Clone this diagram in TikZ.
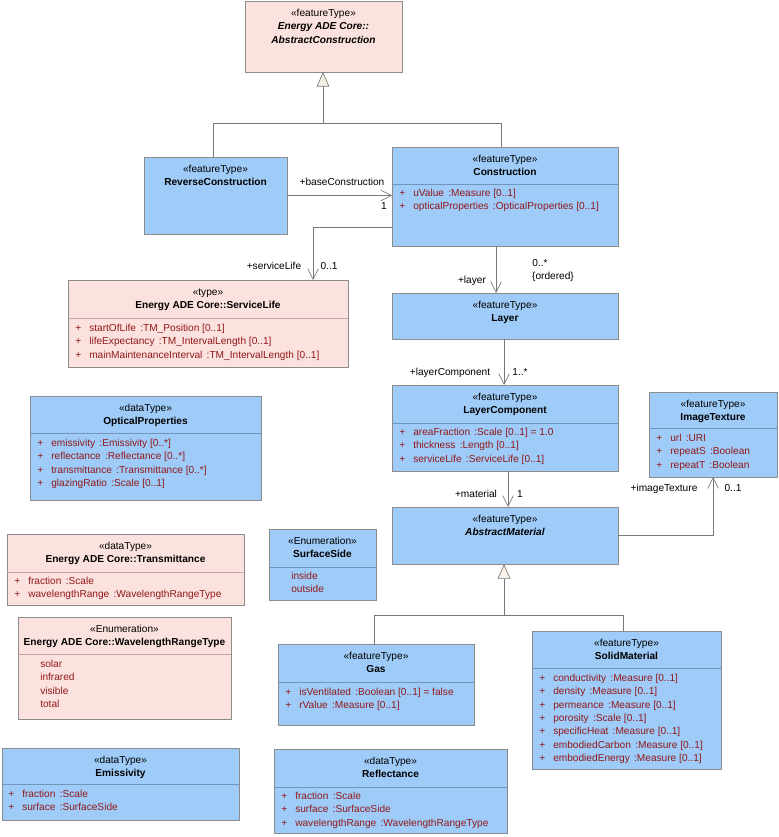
\documentclass[tikz,border=0pt]{standalone}
\usepackage{fontspec}
\setmainfont{Liberation Sans}
\usetikzlibrary{arrows.meta,calc}
\definecolor{ublue}{RGB}{158,203,247}
\definecolor{upink}{RGB}{251,226,222}
\definecolor{ublueline}{RGB}{112,150,190}
\definecolor{upinkline}{RGB}{195,165,165}
\definecolor{uborder}{RGB}{140,140,140}
\definecolor{attrc}{RGB}{145,25,25}
\definecolor{conn}{RGB}{120,120,120}
\definecolor{cream}{RGB}{248,242,232}
\newcommand\pl{\makebox[10.5pt][l]{+}}
\newcommand\sep{\hspace{3.2pt}}
% name, style, x1, y1, x2, y2
\newcommand\ubox[6]{\node[#2, minimum width={(#5-#3)*0.75pt}, minimum height={(#6-#4)*0.75pt}] (#1) at (#3,#4) {};}
\tikzset{
  basebox/.style={draw=uborder, line width=0.5pt, inner sep=0pt, outer sep=0pt, anchor=north west},
  bluebox/.style={basebox, fill=ublue},
  pinkbox/.style={basebox, fill=upink},
  hdr/.style={align=center, inner sep=0pt, anchor=north, text=black},
  attrs/.style={align=left, inner sep=0pt, anchor=north west, text=attrc},
  bsep/.style={draw=ublueline, line width=0.5pt},
  psep/.style={draw=upinkline, line width=0.5pt},
  assoc/.style={draw=conn, line width=0.5pt, -{Straight Barb[length=8pt,width=8pt]}},
  genl/.style={draw=conn, line width=0.5pt, -{Triangle[length=11pt,width=9.5pt,fill=cream]}},
  plainl/.style={draw=conn, line width=0.5pt},
  lbl/.style={inner sep=0pt, text height=5.3pt, text depth=1.5pt, text=black},
}
\begin{document}
\begin{tikzpicture}[x=0.75pt,y=-0.75pt, font=\fontsize{7.6}{10}\selectfont]
\useasboundingbox (0,0) rectangle (778,837);

% ---------- AbstractConstruction
\ubox{AC}{pinkbox}{245}{1}{402}{72}
\node[hdr] (AC-h) at ($(AC.north)+(0,6)$) {\strut«featureType»\\\textbf{\textit{Energy ADE Core::}}\\\textbf{\textit{AbstractConstruction}}};

% ---------- ReverseConstruction
\ubox{RC}{bluebox}{144}{157}{287}{234}
\node[hdr] (RC-h) at ($(RC.north)+(0,6)$) {\strut«featureType»\\\textbf{ReverseConstruction}};

% ---------- Construction
\ubox{C}{bluebox}{392}{147}{618}{246}
\node[hdr] (C-h) at ($(C.north)+(0,6)$) {\strut«featureType»\\\textbf{Construction}};
\draw[bsep] ($(C.north west)+(0,37)$) -- ($(C.north east)+(0,37)$);
\node[attrs] (C-a) at ($(C.north west)+(7,40)$) {\strut\pl uValue\sep:Measure [0..1]\\\pl opticalProperties\sep:OpticalProperties [0..1]};

% ---------- ServiceLife
\ubox{SL}{pinkbox}{68}{280}{348}{367}
\node[hdr] (SL-h) at ($(SL.north)+(0,6)$) {\strut«type»\\\textbf{Energy ADE Core::ServiceLife}};
\draw[psep] ($(SL.north west)+(0,38)$) -- ($(SL.north east)+(0,38)$);
\node[attrs] (SL-a) at ($(SL.north west)+(7,42)$) {\strut\pl startOfLife\sep:TM\_Position [0..1]\\\pl lifeExpectancy\sep:TM\_IntervalLength [0..1]\\\pl mainMaintenanceInterval\sep:TM\_IntervalLength [0..1]};

% ---------- Layer
\ubox{L}{bluebox}{392}{293}{618}{339}
\node[hdr] (L-h) at ($(L.north)+(0,6)$) {\strut«featureType»\\\textbf{Layer}};

% ---------- LayerComponent
\ubox{LC}{bluebox}{392}{385}{618}{471}
\node[hdr] (LC-h) at ($(LC.north)+(0,6)$) {\strut«featureType»\\\textbf{LayerComponent}};
\draw[bsep] ($(LC.north west)+(0,38)$) -- ($(LC.north east)+(0,38)$);
\node[attrs] (LC-a) at ($(LC.north west)+(7,41)$) {\strut\pl areaFraction\sep:Scale [0..1] = 1.0\\\pl thickness\sep:Length [0..1]\\\pl serviceLife\sep:ServiceLife [0..1]};

% ---------- ImageTexture
\ubox{IT}{bluebox}{649}{392}{777}{477}
\node[hdr] (IT-h) at ($(IT.north)+(0,6)$) {\strut«featureType»\\\textbf{ImageTexture}};
\draw[bsep] ($(IT.north west)+(0,36)$) -- ($(IT.north east)+(0,36)$);
\node[attrs] (IT-a) at ($(IT.north west)+(7,40)$) {\strut\pl url\sep:URI\\\pl repeatS\sep:Boolean\\\pl repeatT\sep:Boolean};

% ---------- AbstractMaterial
\ubox{AM}{bluebox}{392}{507}{618}{564}
\node[hdr] (AM-h) at ($(AM.north)+(0,6)$) {\strut«featureType»\\\textbf{\textit{AbstractMaterial}}};

% ---------- OpticalProperties
\ubox{OP}{bluebox}{30}{396}{261}{500}
\node[hdr] (OP-h) at ($(OP.north)+(0,6)$) {\strut«dataType»\\\textbf{OpticalProperties}};
\draw[bsep] ($(OP.north west)+(0,37)$) -- ($(OP.north east)+(0,37)$);
\node[attrs] (OP-a) at ($(OP.north west)+(7,41)$) {\strut\pl emissivity\sep:Emissivity [0..*]\\\pl reflectance\sep:Reflectance [0..*]\\\pl transmittance\sep:Transmittance [0..*]\\\pl glazingRatio\sep:Scale [0..1]};

% ---------- Transmittance
\ubox{TR}{pinkbox}{7}{534}{244}{605}
\node[hdr] (TR-h) at ($(TR.north)+(0,6)$) {\strut«dataType»\\\textbf{Energy ADE Core::Transmittance}};
\draw[psep] ($(TR.north west)+(0,38)$) -- ($(TR.north east)+(0,38)$);
\node[attrs] (TR-a) at ($(TR.north west)+(7,41)$) {\strut\pl fraction\sep:Scale\\\pl wavelengthRange\sep:WavelengthRangeType};

% ---------- SurfaceSide
\ubox{SS}{bluebox}{269}{529}{376}{600}
\node[hdr] (SS-h) at ($(SS.north)+(0,6)$) {\strut«Enumeration»\\\textbf{SurfaceSide}};
\draw[bsep] ($(SS.north west)+(0,38)$) -- ($(SS.north east)+(0,38)$);
\node[attrs] (SS-a) at ($(SS.north west)+(22,41)$) {\strut inside\\outside};

% ---------- WavelengthRangeType
\ubox{WR}{pinkbox}{18}{617}{231}{719}
\node[hdr] (WR-h) at ($(WR.north)+(0,6)$) {\strut«Enumeration»\\\textbf{Energy ADE Core::WavelengthRangeType}};
\draw[psep] ($(WR.north west)+(0,37)$) -- ($(WR.north east)+(0,37)$);
\node[attrs] (WR-a) at ($(WR.north west)+(22,41)$) {\strut solar\\infrared\\visible\\total};

% ---------- Gas
\ubox{G}{bluebox}{278}{644}{474}{725}
\node[hdr] (G-h) at ($(G.north)+(0,6)$) {\strut«featureType»\\\textbf{Gas}};
\draw[bsep] ($(G.north west)+(0,38)$) -- ($(G.north east)+(0,38)$);
\node[attrs] (G-a) at ($(G.north west)+(7,42)$) {\strut\pl isVentilated\sep:Boolean [0..1] = false\\\pl rValue\sep:Measure [0..1]};

% ---------- SolidMaterial
\ubox{SM}{bluebox}{532}{631}{721}{769}
\node[hdr] (SM-h) at ($(SM.north)+(0,6)$) {\strut«featureType»\\\textbf{SolidMaterial}};
\draw[bsep] ($(SM.north west)+(0,37)$) -- ($(SM.north east)+(0,37)$);
\node[attrs] (SM-a) at ($(SM.north west)+(7,41)$) {\strut\pl conductivity\sep:Measure [0..1]\\\pl density\sep:Measure [0..1]\\\pl permeance\sep:Measure [0..1]\\\pl porosity\sep:Scale [0..1]\\\pl specificHeat\sep:Measure [0..1]\\\pl embodiedCarbon\sep:Measure [0..1]\\\pl embodiedEnergy\sep:Measure [0..1]};

% ---------- Emissivity
\ubox{EM}{bluebox}{2}{748}{239}{820}
\node[hdr] (EM-h) at ($(EM.north)+(0,6)$) {\strut«dataType»\\\textbf{Emissivity}};
\draw[bsep] ($(EM.north west)+(0,36)$) -- ($(EM.north east)+(0,36)$);
\node[attrs] (EM-a) at ($(EM.north west)+(6,40)$) {\strut\pl fraction\sep:Scale\\\pl surface\sep:SurfaceSide};

% ---------- Reflectance
\ubox{RF}{bluebox}{274}{749}{507}{833}
\node[hdr] (RF-h) at ($(RF.north)+(0,6)$) {\strut«dataType»\\\textbf{Reflectance}};
\draw[bsep] ($(RF.north west)+(0,38)$) -- ($(RF.north east)+(0,38)$);
\node[attrs] (RF-a) at ($(RF.north west)+(7,41)$) {\strut\pl fraction\sep:Scale\\\pl surface\sep:SurfaceSide\\\pl wavelengthRange\sep:WavelengthRangeType};

% ================= connectors
% generalisation to AbstractConstruction
\coordinate (j1) at ($(AC.south)+(-0.5,51)$);
\draw[plainl] ($(RC.north)+(-2.5,0)$) |- (j1);
\draw[plainl] ($(C.north)+(-4,0)$) |- (j1);
\draw[genl] (j1) -- ($(AC.south)+(-0.5,0)$);

% baseConstruction
\draw[assoc] (RC.east) -- (RC.east -| C.west);
\node[lbl] (l-bc) at (342,183) {+baseConstruction};
\node[lbl] (m-bc) at (384,207) {1};

% serviceLife
\draw[assoc] ($(C.south west)+(0,-19)$) -| ($(SL.north east)+(-35,0)$);
\node[lbl] (l-sl) at (274,267) {+serviceLife};
\node[lbl] (m-sl) at (329,267) {0..1};

% layer
\draw[assoc] ($(C.south)+(-9,0)$) -- ($(L.north)+(-9,0)$);
\node[lbl] (l-l) at (472,281) {+layer};
\node[lbl] (m-l) at (540,264) {0..*};
\node[lbl] (m-l2) at (553,277) {\{ordered\}};

% layerComponent
\draw[assoc] ($(L.south)+(-1,0)$) -- ($(LC.north)+(-1,0)$);
\node[lbl] (l-lc) at (450,373) {+layerComponent};
\node[lbl] (m-lc) at (520,373) {1..*};

% material
\draw[assoc] ($(LC.south)+(3,0)$) -- ($(AM.north)+(3,0)$);
\node[lbl] (l-m) at (476,495) {+material};
\node[lbl] (m-m) at (520,495) {1};

% imageTexture
\draw[assoc] (AM.east) -| (IT.south);
\node[lbl] (l-it) at (664,489) {+imageTexture};
\node[lbl] (m-it) at (733,489) {0..1};

% generalisation to AbstractMaterial
\coordinate (j2) at ($(AM.south)+(-1,51)$);
\draw[plainl] ($(G.north)+(-2,0)$) |- (j2);
\draw[plainl] ($(SM.north)+(-3.5,0)$) |- (j2);
\draw[genl] (j2) -- ($(AM.south)+(-1,0)$);
\end{tikzpicture}
\end{document}
